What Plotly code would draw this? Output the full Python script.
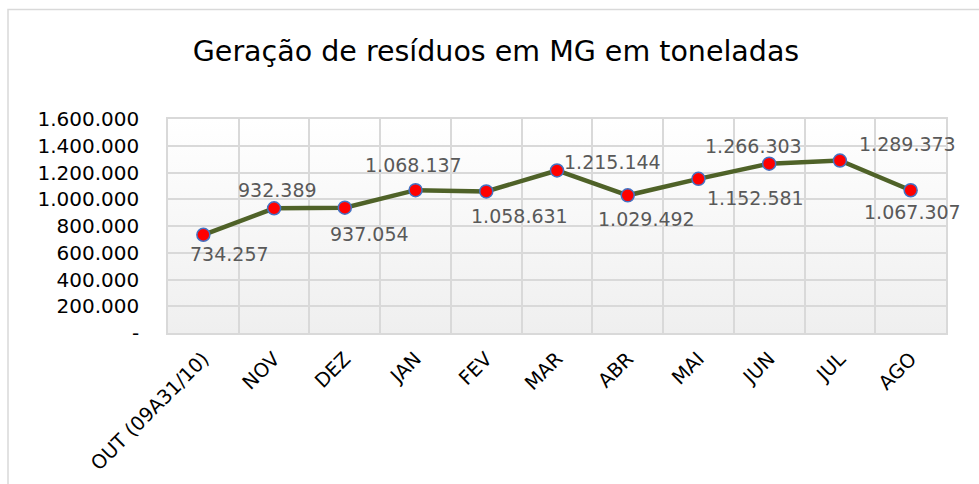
import base64
import plotly.graph_objects as go

# Monthly waste generation in Minas Gerais (tonnes)
months = ["OUT (09A31/10)", "NOV", "DEZ", "JAN", "FEV", "MAR",
          "ABR", "MAI", "JUN", "JUL", "AGO"]
tonnes = [734257, 932389, 937054, 1068137, 1058631, 1215144,
          1029492, 1152581, 1266303, 1289373, 1067307]

y_ticks = [0, 200000, 400000, 600000, 800000, 1000000, 1200000, 1400000, 1600000]
y_tick_text = ["-", "200.000", "400.000", "600.000", "800.000",
               "1.000.000", "1.200.000", "1.400.000", "1.600.000"]

# pixel offsets of each value label from its marker (dx right, dy up)
label_dx = [26, 3, 25, -2, 33, 55, 19, 57, -16, 68, 2]
label_dy = [-19, 18, -26, 25, -25, 8, -24, -19, 18, 17, -22]

FONT = "DejaVu Sans"


def fmt_br(v):
    return f"{v:,}".replace(",", ".")


x_idx = list(range(len(months)))
y_max = y_ticks[-1]
x_lo, x_hi = -0.5, len(months) - 0.5

# vertical white-to-grey gradient used as the plot-area background
gradient_svg = (
    '<svg xmlns="http://www.w3.org/2000/svg" width="100" height="100" '
    'preserveAspectRatio="none">'
    '<defs><linearGradient id="g" x1="0" y1="0" x2="0" y2="1">'
    '<stop offset="0" stop-color="#ffffff"/>'
    '<stop offset="1" stop-color="#efefef"/>'
    '</linearGradient></defs>'
    '<rect width="100" height="100" fill="url(#g)"/></svg>'
)
gradient_uri = "data:image/svg+xml;base64," + base64.b64encode(
    gradient_svg.encode()).decode()

fig = go.Figure()

fig.add_trace(go.Scatter(
    x=x_idx, y=tonnes,
    mode="lines+markers",
    line=dict(color="#4f6228", width=4.5),
    marker=dict(size=13, color="#ff0000",
                line=dict(color="#4472c4", width=1.5)),
    showlegend=False,
))

for i, v in enumerate(tonnes):
    fig.add_annotation(
        x=x_idx[i], y=v, text=fmt_br(v), showarrow=False,
        xshift=label_dx[i], yshift=label_dy[i],
        font=dict(family=FONT, size=19, color="#595959"),
    )

fig.add_layout_image(
    source=gradient_uri, xref="x", yref="y",
    x=x_lo, y=y_max, sizex=x_hi - x_lo, sizey=y_max,
    xanchor="left", yanchor="top", sizing="stretch", layer="below",
)

# outer chart frame (left and top edges)
fig.add_shape(type="rect", xref="paper", yref="paper",
              x0=(8 - 168) / 778, x1=1.2, y0=-1, y1=(333 - 9.5) / 214,
              line=dict(color="#d9d9d9", width=1.5), layer="below")

fig.update_layout(
    width=979, height=484,
    margin=dict(l=168, r=33, t=119, b=151, autoexpand=False),
    paper_bgcolor="white", plot_bgcolor="white",
    title=dict(text="Geração de resíduos em MG em toneladas",
               x=496 / 979, xref="container", xanchor="center",
               y=1 - 51 / 484, yanchor="middle",
               font=dict(family=FONT, size=28.5, color="#000000")),
    xaxis=dict(
        range=[x_lo, x_hi], automargin=False,
        tickmode="array", tickvals=x_idx, ticktext=months,
        tickangle=-45,
        tickfont=dict(family=FONT, size=19.5, color="#000000"),
        showgrid=False, zeroline=False,
        minor=dict(tickmode="linear", tick0=0.5, dtick=1,
                   showgrid=True, gridcolor="#d9d9d9", gridwidth=1.5),
        showline=True, mirror=True, linecolor="#d9d9d9", linewidth=1.5,
        ticks="", ticklabelstandoff=5,
    ),
    yaxis=dict(
        range=[0, y_max], automargin=False,
        tickmode="array", tickvals=y_ticks, ticktext=y_tick_text,
        tickfont=dict(family=FONT, size=20, color="#000000"),
        showgrid=True, gridcolor="#d9d9d9", gridwidth=1.5,
        zeroline=False,
        showline=True, mirror=True, linecolor="#d9d9d9", linewidth=1.5,
        ticks="", ticklabelstandoff=23,
    ),
)

fig.write_html("out.html")
